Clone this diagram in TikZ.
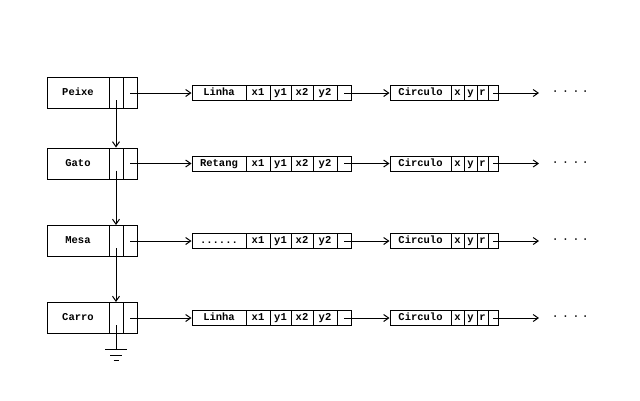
\documentclass[tikz,border=0pt]{standalone}
\usepackage{fontspec}
\setmonofont{Liberation Mono}
\usetikzlibrary{arrows.meta}
\newcommand\cellnode[6]{\node[cell, minimum width={#3-#2}, minimum height=#5] (#1) at ({(#2+#3)/2},#4) {#6};}
\newcommand\headrow[3]{%
  \cellnode{#1a}{47}{109}{#2}{31}{#3}
  \cellnode{#1b}{109}{123}{#2}{31}{}
  \cellnode{#1c}{123}{137}{#2}{31}{}}
\newcommand\linerec[7]{%
  \cellnode{#1a}{192}{246}{#2}{15}{#3}
  \cellnode{#1b}{246}{270}{#2}{15}{#4}
  \cellnode{#1c}{270}{291}{#2}{15}{#5}
  \cellnode{#1d}{291}{313}{#2}{15}{#6}
  \cellnode{#1e}{313}{337}{#2}{15}{#7}
  \cellnode{#1f}{337}{351}{#2}{15}{}}
\newcommand\circrec[2]{%
  \cellnode{#1a}{390}{451}{#2}{15}{Circulo}
  \cellnode{#1b}{451}{464}{#2}{15}{x}
  \cellnode{#1c}{464}{477}{#2}{15}{y}
  \cellnode{#1d}{477}{488}{#2}{15}{r}
  \cellnode{#1e}{488}{498}{#2}{15}{}}
\begin{document}
\begin{tikzpicture}[x=1pt,y=-1pt,
  cell/.style={draw, line width=1pt, inner sep=0pt, text height=7pt, text depth=1.5pt,
    font=\ttfamily\bfseries\fontsize{10.5}{10.5}\selectfont},
  lnk/.style={line width=1pt, -{Straight Barb[length=5pt,width=7pt,line width=1pt]}},
  plain/.style={line width=1pt},
  dots/.style={font=\ttfamily\bfseries\fontsize{10.5}{10.5}\selectfont, inner sep=0pt, anchor=west}]
\useasboundingbox (0,0) rectangle (640,400);
% head list
\headrow{p}{93}{Peixe}
\headrow{g}{163.5}{Gato}
\headrow{m}{241}{Mesa}
\headrow{k}{318}{Carro}
% records
\linerec{l1}{93}{Linha}{x1}{y1}{x2}{y2}
\linerec{l2}{163.5}{Retang}{x1}{y1}{x2}{y2}
\linerec{l3}{241}{......}{x1}{y1}{x2}{y2}
\linerec{l4}{318}{Linha}{x1}{y1}{x2}{y2}
\circrec{c1}{93}
\circrec{c2}{163.5}
\circrec{c3}{241}
\circrec{c4}{318}
% vertical links
\draw[lnk] ([yshift=-7pt]pb.center) -- (gb.north);
\draw[lnk] ([yshift=-7pt]gb.center) -- (mb.north);
\draw[lnk] ([yshift=-7pt]mb.center) -- (kb.north);
% horizontal links
\foreach \h/\r in {p/1,g/2,m/3,k/4}{
  \draw[lnk] (\h c.center) -- (l\r a.west);
  \draw[lnk] (l\r f.center) -- (c\r a.west);
  \coordinate (e\r) at ([xshift=46pt]c\r e.center);
  \draw[lnk] (c\r e.center) -- (e\r);
  \node[dots] (d\r) at ([xshift=13pt]e\r) {·\hspace{4pt}·\hspace{4pt}·\hspace{3pt}·};
}
% ground
\coordinate (gnd) at (116,349);
\draw[plain] ([yshift=-7pt]kb.center) -- (gnd);
\draw[plain] ([xshift=-11pt]gnd) -- ([xshift=11pt]gnd);
\draw[plain] ([xshift=-6pt,yshift=-6pt]gnd) -- ([xshift=6pt,yshift=-6pt]gnd);
\draw[plain] ([xshift=-2.5pt,yshift=-11pt]gnd) -- ([xshift=2.5pt,yshift=-11pt]gnd);
\end{tikzpicture}
\end{document}
